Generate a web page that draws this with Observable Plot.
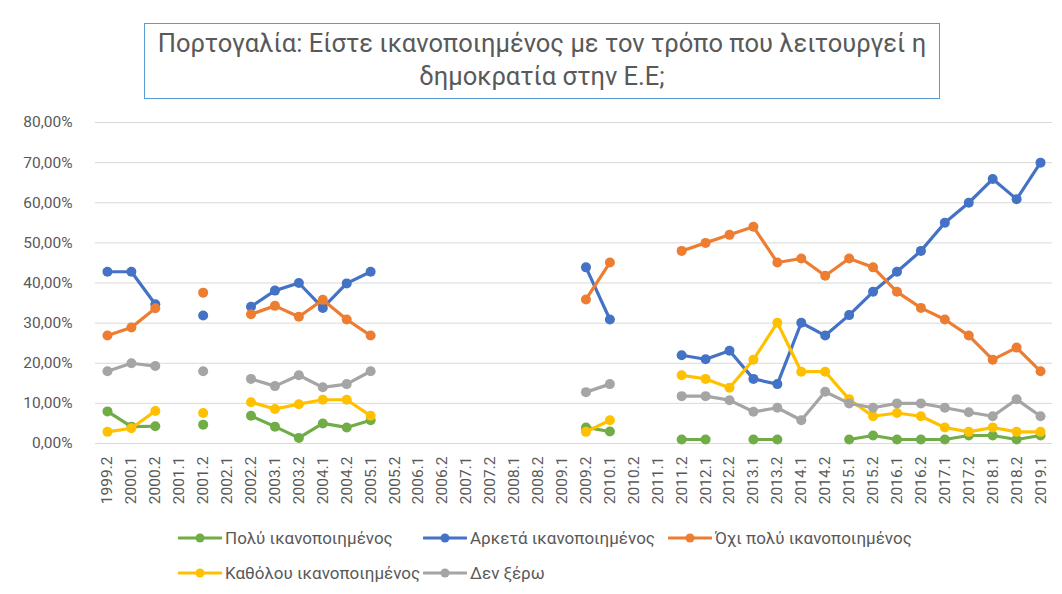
<!DOCTYPE html>
<html>
<head>
<meta charset="utf-8">
<script src="https://cdn.jsdelivr.net/npm/d3@7"></script>
<script src="https://cdn.jsdelivr.net/npm/@observablehq/plot@0.6"></script>
<style>
  body { margin: 0; background: #fff; font-family: Roboto, "Open Sans", sans-serif; color: #595959; }
  #wrap { position: relative; width: 1062px; height: 594px; overflow: hidden; background: #fff; }
  #title { position: absolute; left: 144px; top: 23px; width: 796px; height: 76px; box-sizing: border-box;
           border: 1.5px solid #5B9BD5; text-align: center; font-size: 25.5px; line-height: 33px; padding-top: 3px; color: #595959; white-space: nowrap; }
  #chart { position: absolute; left: 0; top: 110px; }
  .leg { position: absolute; display: flex; align-items: center; font-size: 17px; white-space: nowrap; transform: translateY(-50%); color: #595959; }
  .leg svg { margin-right: 3px; }
</style>
</head>
<body>
<div id="wrap">
  <div id="title">Πορτογαλία: Είστε ικανοποιημένος με τον τρόπο που λειτουργεί η<br>δημοκρατία στην Ε.Ε;</div>
  <div id="chart"></div>
  <div id="legend"></div>
</div>
<script>
const categories = ["1999.2","2000.1","2000.2","2001.1","2001.2","2002.1","2002.2","2003.1","2003.2","2004.1","2004.2","2005.1","2005.2","2006.1","2006.2","2007.1","2007.2","2008.1","2008.2","2009.1","2009.2","2010.1","2010.2","2011.1","2011.2","2012.1","2012.2","2013.1","2013.2","2014.1","2014.2","2015.1","2015.2","2016.1","2016.2","2017.1","2017.2","2018.1","2018.2","2019.1"];

const seriesNames = ["Πολύ ικανοποιημένος", "Αρκετά ικανοποιημένος", "Όχι πολύ ικανοποιημένος", "Καθόλου ικανοποιημένος", "Δεν ξέρω"];
const seriesColors = ["#70AD47", "#4472C4", "#ED7D31", "#FFC000", "#A5A5A5"];

const poly = [8.0, 4.2, 4.3, null, 4.7, null, 6.9, 4.2, 1.4, 5.0, 4.0, 5.8,
  null, null, null, null, null, null, null, null,
  4.0, 3.0, null, null,
  1, 1, null, 1, 1, null, null, 1, 2, 1, 1, 1, 2, 2, 1, 2];
const arketa = [42.8, 42.8, 34.7, null, 31.9, null, 34.1, 38.1, 40.0, 33.8, 39.9, 42.8,
  null, null, null, null, null, null, null, null,
  43.9, 30.9, null, null,
  22.0, 21.0, 23.1, 16.1, 14.8, 30.1, 26.9, 32.0, 37.8, 42.8, 48.0, 55.0, 60.0, 65.9, 60.9, 70.0];
const ochiPoly = [26.9, 28.9, 33.7, null, 37.6, null, 32.2, 34.3, 31.6, 35.8, 30.9, 26.9,
  null, null, null, null, null, null, null, null,
  35.9, 45.1, null, null,
  48.0, 50.0, 52.0, 54.0, 45.1, 46.1, 41.8, 46.1, 43.9, 37.8, 33.8, 30.9, 26.9, 20.9, 23.9, 18.0];
const katholou = [2.9, 3.8, 8.1, null, 7.6, null, 10.3, 8.6, 9.8, 10.9, 10.9, 6.9,
  null, null, null, null, null, null, null, null,
  2.9, 5.8, null, null,
  17.0, 16.1, 13.9, 20.9, 30.1, 17.9, 17.9, 11.0, 6.8, 7.6, 6.8, 4.0, 2.9, 4.0, 2.9, 2.9];
const denXero = [18.0, 20.0, 19.3, null, 18.0, null, 16.1, 14.3, 17.0, 14.0, 14.8, 18.0,
  null, null, null, null, null, null, null, null,
  12.8, 14.8, null, null,
  11.8, 11.8, 10.8, 7.9, 8.9, 5.8, 12.9, 10.0, 8.9, 10.0, 10.0, 8.9, 7.8, 6.8, 11.0, 6.8];

const yTicks = [0, 10, 20, 30, 40, 50, 60, 70, 80];

const seriesValues = [poly, arketa, ochiPoly, katholou, denXero];

const marks = [
  Plot.ruleY(yTicks, {stroke: "#D9D9D9", strokeWidth: 1})
];
seriesNames.forEach((name, si) => {
  const rows = categories.map((c, i) => ({cat: c, v: seriesValues[si][i] == null ? NaN : seriesValues[si][i]}));
  marks.push(Plot.line(rows, {x: "cat", y: "v", stroke: seriesColors[si], strokeWidth: 3.2, strokeLinejoin: "round", strokeLinecap: "round"}));
  marks.push(Plot.dot(rows.filter(d => !isNaN(d.v)), {x: "cat", y: "v", fill: seriesColors[si], r: 5, stroke: "none"}));
});
marks.push(Plot.axisY(yTicks, {tickSize: 0, tickPadding: 23, fontSize: 15.5, fill: "#595959",
  tickFormat: d => d.toFixed(2).replace(".", ",") + "%", label: null}));
marks.push(Plot.axisX({tickRotate: -90, tickSize: 0, tickPadding: 13, fontSize: 15.5, fill: "#595959", label: null}));

const chart = Plot.plot({
  width: 1062,
  height: 420,
  marginLeft: 95,
  marginRight: 10,
  marginTop: 12,
  marginBottom: 87,
  x: {type: "point", domain: categories, padding: 0.5},
  y: {domain: [0, 80]},
  style: {fontFamily: "Roboto, 'Open Sans', sans-serif", color: "#595959", background: "transparent", overflow: "visible"},
  marks
});
document.getElementById("chart").appendChild(chart);

// legend
const legendPos = [[178, 538], [423, 538], [668, 538], [178, 573], [423, 573]];
const legend = document.getElementById("legend");
seriesNames.forEach((name, i) => {
  const div = document.createElement("div");
  div.className = "leg";
  div.style.left = legendPos[i][0] + "px";
  div.style.top = legendPos[i][1] + "px";
  div.innerHTML = `<svg width="44" height="12"><line x1="1" y1="6" x2="43" y2="6" stroke="${seriesColors[i]}" stroke-width="3" stroke-linecap="round"/><circle cx="22" cy="6" r="4.5" fill="${seriesColors[i]}"/></svg><span>${name}</span>`;
  legend.appendChild(div);
});
</script>
</body>
</html>
